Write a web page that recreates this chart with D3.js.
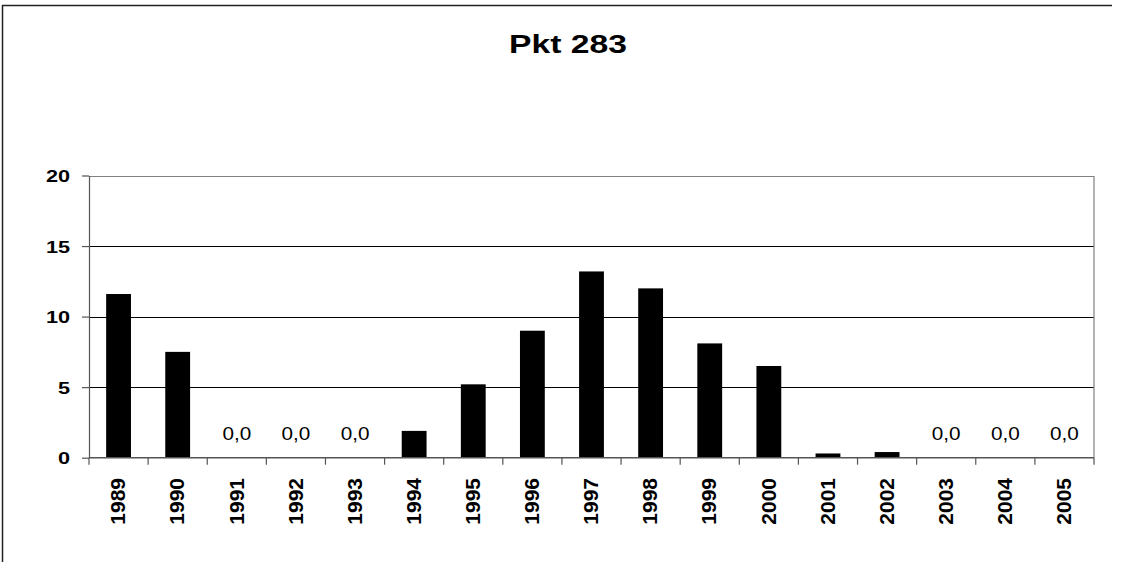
<!DOCTYPE html>
<html>
<head>
<meta charset="utf-8">
<script src="https://cdn.jsdelivr.net/npm/d3@7/dist/d3.min.js"></script>
<style>
  html, body { margin: 0; padding: 0; background: #fff; overflow: hidden; }
  svg { display: block; font-family: "Liberation Sans", Arial, sans-serif; }
</style>
</head>
<body>
<svg id="chart" width="1121" height="562"></svg>
<script>
// Annual values for measuring point Pkt 283
const chartTitle = "Pkt 283";
const years = ["1989","1990","1991","1992","1993","1994","1995","1996","1997","1998","1999","2000","2001","2002","2003","2004","2005"];
const values = [11.6, 7.5, 0, 0, 0, 1.9, 5.2, 9.0, 13.2, 12.0, 8.1, 6.5, 0.3, 0.4, 0, 0, 0];
const yTicks = [0, 5, 10, 15, 20];

const svg = d3.select("#chart");
const plot = { left: 89, right: 1094, top: 175.5, bottom: 457.7 };
const stretch = 1.27; // wide lettering of the horizontal labels

// outer frame: top and left edges
const frame = svg.append("g").attr("stroke", "#222").attr("stroke-width", 1.5);
frame.append("line").attr("x1", 2.5).attr("x2", 2.5).attr("y1", 5).attr("y2", 562);
frame.append("line").attr("x1", 2).attr("x2", 1112).attr("y1", 5.5).attr("y2", 5.5);

// title
svg.append("text")
  .attr("transform", `translate(568,53) scale(${stretch},1)`)
  .attr("text-anchor", "middle")
  .attr("font-size", 26.5).attr("font-weight", "bold")
  .text(chartTitle);

const x = d3.scaleBand()
  .domain(years)
  .range([plot.left, plot.right])
  .paddingInner(0.58)
  .paddingOuter(0.29);

const y = d3.scaleLinear()
  .domain([0, 20])
  .range([plot.bottom, plot.top]);

// horizontal gridlines
svg.append("g")
  .selectAll("line")
  .data(yTicks.filter(d => d > 0 && d < 20))
  .join("line")
  .attr("x1", plot.left).attr("x2", plot.right)
  .attr("y1", d => Math.round(y(d)) + 0.5).attr("y2", d => Math.round(y(d)) + 0.5)
  .attr("stroke", "#000").attr("stroke-width", 1);

// plot frame: top and right edges
svg.append("path")
  .attr("d", `M${plot.left},${Math.round(plot.top) + 0.5}H${plot.right}V${plot.bottom}`)
  .attr("fill", "none").attr("stroke", "#808080").attr("stroke-width", 1.2);

// bars
svg.append("g")
  .selectAll("rect")
  .data(years.map((yr, i) => ({ yr, v: values[i] })))
  .join("rect")
  .attr("x", d => x(d.yr))
  .attr("width", x.bandwidth())
  .attr("y", d => y(d.v))
  .attr("height", d => y(0) - y(d.v))
  .attr("fill", "#000");

// value labels on empty years
const fmt = v => d3.format(".1f")(v).replace(".", ",");
svg.append("g")
  .selectAll("text")
  .data(years.map((yr, i) => ({ yr, v: values[i] })).filter(d => d.v === 0))
  .join("text")
  .attr("transform", d => `translate(${x(d.yr) + x.bandwidth() / 2},${y(d.v) - 18}) scale(1.12,1)`)
  .attr("text-anchor", "middle")
  .attr("font-size", 18.5)
  .text(d => fmt(d.v));

// y axis
const yAxis = svg.append("g")
  .attr("transform", `translate(${plot.left},0)`)
  .call(d3.axisLeft(y).tickValues(yTicks).tickSize(7).tickSizeOuter(0));
yAxis.select(".domain").attr("stroke", "#555").attr("stroke-width", 1.2);
yAxis.selectAll(".tick line").attr("stroke", "#555").attr("stroke-width", 1.2);
yAxis.selectAll(".tick text")
  .attr("x", 0).attr("dy", "0.36em")
  .attr("transform", `translate(-19,0) scale(1.26,1)`)
  .attr("font-size", 17.2).attr("font-weight", "bold")
  .attr("fill", "#000")
  .attr("font-family", "Liberation Sans, Arial, sans-serif");

// x axis: baseline, boundary ticks, rotated year labels
const step = x.step();
const bounds = years.map(yr => x(yr) - (step - x.bandwidth()) / 2).concat([plot.right]);
const xg = svg.append("g");
xg.append("line")
  .attr("x1", plot.left).attr("x2", plot.right)
  .attr("y1", plot.bottom).attr("y2", plot.bottom)
  .attr("stroke", "#555").attr("stroke-width", 1.4);
xg.selectAll("line.tk")
  .data(bounds)
  .join("line")
  .attr("class", "tk")
  .attr("x1", d => d).attr("x2", d => d)
  .attr("y1", plot.bottom).attr("y2", plot.bottom + 7)
  .attr("stroke", "#555").attr("stroke-width", 1.2);
xg.selectAll("text")
  .data(years)
  .join("text")
  .attr("transform", d => `translate(${x(d) + x.bandwidth() / 2 - 0.8},478) rotate(-90)`)
  .attr("text-anchor", "end")
  .attr("dy", "0.36em")
  .attr("font-size", 21).attr("font-weight", "bold")
  .text(d => d);
</script>
</body>
</html>
